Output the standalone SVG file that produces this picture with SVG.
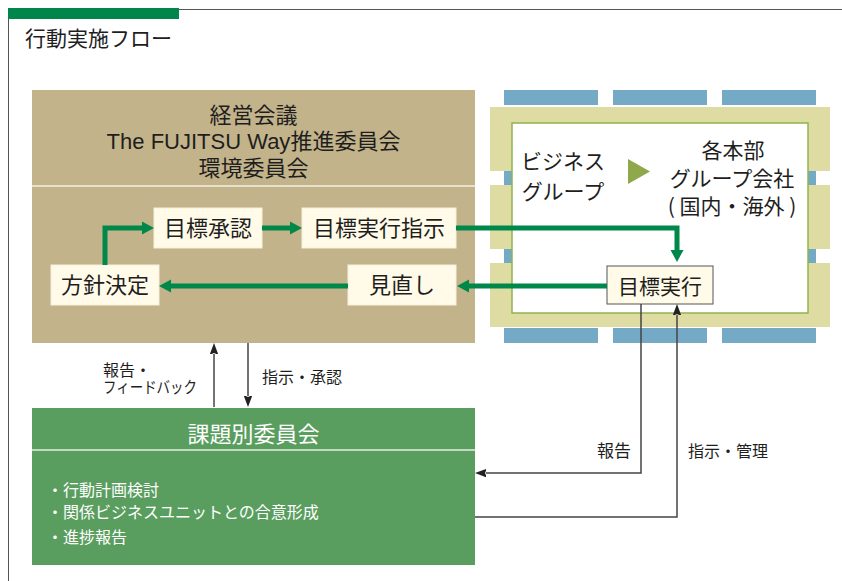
<svg xmlns="http://www.w3.org/2000/svg" width="842" height="581" viewBox="0 0 842 581">
<defs>
<style>
text{font-family:"Noto Sans CJK JP","Noto Sans",sans-serif;fill:#1e1e1e}
.h{font-size:22px;text-anchor:middle}
.n{font-size:21px;text-anchor:middle}
.s{font-size:16px}
.w{fill:#ffffff}
.lat{font-family:"Liberation Sans",Arial,sans-serif}
.node{fill:#fffbe8;stroke:#f4f0dc;stroke-width:1}
.g{fill:none;stroke:#00874a;stroke-width:5}
.k{fill:none;stroke:#444;stroke-width:1.5}
.blue{fill:#75aac6}
.olive{fill:#dedca3}
</style>
<marker id="ga" markerUnits="userSpaceOnUse" markerWidth="14" markerHeight="16" viewBox="0 -8 14 16" refX="0" refY="0" orient="auto">
<path d="M0,-6.5 L12,0 L0,6.5 z" fill="#00874a"/>
</marker>
<marker id="ka" markerUnits="userSpaceOnUse" markerWidth="12" markerHeight="12" viewBox="0 -6 12 12" refX="0" refY="0" orient="auto">
<path d="M-1,-4.5 L11,0 L-1,4.5 L1,0 z" fill="#222"/>
</marker>
</defs>
<rect width="842" height="581" fill="#fff"/>
<g id="frame">
<path d="M8,9.5 H842 M8.5,9 V581" stroke="#555" stroke-width="1" fill="none"/>
<rect x="8" y="8" width="171" height="11" fill="#00854a"/>
<text x="25" y="45.5" style="font-size:21px">行動実施フロー</text>
</g>
<g id="management">
<rect x="32" y="90" width="443" height="253" fill="#c3b38a"/>
<line x1="32" y1="186" x2="475" y2="186" stroke="#f3efe3" stroke-width="1.5"/>
<text class="h" x="253.5" y="123">経営会議</text>
<text class="h" x="253.5" y="149"><tspan class="lat">The FUJITSU Way</tspan>推進委員会</text>
<text class="h" x="253.5" y="175.5">環境委員会</text>
</g>
<g id="business">
<rect class="blue" x="504" y="90" width="94" height="15"/>
<rect class="blue" x="613" y="90" width="94" height="15"/>
<rect class="blue" x="722" y="90" width="94" height="15"/>
<rect class="blue" x="504" y="328" width="94" height="15"/>
<rect class="blue" x="613" y="328" width="94" height="15"/>
<rect class="blue" x="722" y="328" width="94" height="15"/>
<rect class="olive" x="490" y="107" width="340" height="220"/>
<rect x="490" y="171" width="14" height="14" fill="#fff"/>
<rect class="blue" x="504" y="171" width="8" height="14"/>
<rect x="490" y="249" width="14" height="14" fill="#fff"/>
<rect class="blue" x="504" y="249" width="8" height="14"/>
<rect x="816" y="171" width="14" height="14" fill="#fff"/>
<rect class="blue" x="808" y="171" width="8" height="14"/>
<rect x="816" y="249" width="14" height="14" fill="#fff"/>
<rect class="blue" x="808" y="249" width="8" height="14"/>
<rect x="512" y="123" width="296" height="190" fill="#fff" stroke="#8fb44c" stroke-width="1.5"/>
<text class="n" x="563" y="169">ビジネス</text>
<text class="n" x="563" y="199">グループ</text>
<path d="M628,159 L650,171.5 L628,184 z" fill="#8ea84a"/>
<text class="n" x="733" y="158">各本部</text>
<text class="n" x="732" y="185.5">グループ会社</text>
<text class="n" x="732" y="213.5">( 国内・海外 )</text>
</g>
<g id="n-approve">
<rect class="node" x="154" y="208" width="108" height="40"/>
<text class="h" x="208" y="236">目標承認</text>
</g>
<g id="n-instruct">
<rect class="node" x="302" y="208" width="154" height="40"/>
<text class="h" x="379" y="236">目標実行指示</text>
</g>
<g id="n-policy">
<rect class="node" x="51" y="265" width="108" height="40"/>
<text class="h" x="105" y="293">方針決定</text>
</g>
<g id="n-review">
<rect class="node" x="348" y="265" width="108" height="40"/>
<text class="h" x="402" y="293">見直し</text>
</g>
<g id="n-execute">
<rect x="607" y="266" width="106" height="38" fill="#fffbe8" stroke="#555" stroke-width="1"/>
<text class="n" x="660" y="294">目標実行</text>
</g>
<g id="committee">
<rect x="32" y="408" width="443" height="157" fill="#5a9e5f"/>
<line x1="32" y1="450" x2="475" y2="450" stroke="#e4efe2" stroke-width="1.5"/>
<text class="h w" x="253.5" y="441.5">課題別委員会</text>
<text class="s w" x="47" y="496">・行動計画検討</text>
<text class="s w" x="47" y="517.5">・関係ビジネスユニットとの合意形成</text>
<text class="s w" x="47" y="542.5">・進捗報告</text>
</g>
<g id="connectors">
<path class="g" d="M105,265 V228 H142" marker-end="url(#ga)"/>
<path class="g" d="M262,228 H290" marker-end="url(#ga)"/>
<path class="g" d="M456,228 H677 V250" marker-end="url(#ga)"/>
<path class="g" d="M607,286 H469" marker-end="url(#ga)"/>
<path class="g" d="M348,286 H171" marker-end="url(#ga)"/>
<path class="k" d="M641,304 V473 H486" marker-end="url(#ka)"/>
<path class="k" d="M475,517 H677 V315" marker-end="url(#ka)"/>
<path class="k" d="M214,407 V354" marker-end="url(#ka)"/>
<path class="k" d="M248,343 V396" marker-end="url(#ka)"/>
<text class="s" x="103" y="376">報告・</text>
<text class="s" x="103" y="393" textLength="94" lengthAdjust="spacingAndGlyphs">フィードバック</text>
<text class="s" x="262" y="383">指示・承認</text>
<text x="597" y="457" style="font-size:17px">報告</text>
<text class="s" x="688" y="457">指示・管理</text>
</g>
</svg>
